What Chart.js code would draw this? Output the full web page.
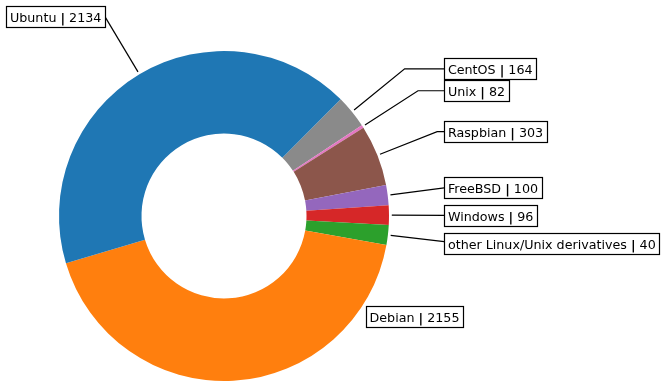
<!DOCTYPE html>
<html>
<head>
<meta charset="utf-8">
<script src="https://cdn.jsdelivr.net/npm/chart.js@4.4.1/dist/chart.umd.min.js"></script>
<style>
  html, body { margin: 0; padding: 0; background: #fff; }
  #wrap { width: 662px; height: 387px; }
</style>
</head>
<body>
<div id="wrap"><canvas id="pie" width="662" height="387"></canvas></div>
<script>
// wedge order as in the original (counter-clockwise, starting at 45deg)
const systems = ['Ubuntu', 'Debian', 'other Linux/Unix derivatives', 'Windows', 'FreeBSD', 'Raspbian', 'Unix', 'CentOS'];
// numbers printed in the label boxes
const counts = [2134, 2155, 40, 96, 100, 303, 82, 164];
// wedge sizes as drawn - green and pink don't match their labels in the picture
const wedges = [2134, 2155, 99, 96, 100, 303, 14, 164];
const colors = ['#1f77b4', '#ff7f0e', '#2ca02c', '#d62728', '#9467bd', '#8c564b', '#e377c2', '#8a8a8a'];

// where each label sits, in units of the outer radius from the centre
const labelPos = [
  { x: -0.743, y: 1.209, align: 'right', line: true },
  { x: 0.882, y: -0.608, align: 'left', line: false },
  { x: 1.357, y: -0.168, align: 'left', line: true },
  { x: 1.357, y: 0.004, align: 'left', line: true },
  { x: 1.357, y: 0.173, align: 'left', line: true },
  { x: 1.357, y: 0.511, align: 'left', line: true },
  { x: 1.357, y: 0.759, align: 'left', line: true },
  { x: 1.357, y: 0.892, align: 'left', line: true },
];

const FONT = '12.7px "DejaVu Sans"';
const BOLD = 'bold 12.7px "DejaVu Sans"';
const PAD = 3.7;
const BOX_H = 21;

const boxLabels = {
  id: 'boxLabels',
  afterDraw(chart) {
    const ctx = chart.ctx;
    const meta = chart.getDatasetMeta(0);
    const n = systems.length;
    ctx.save();
    systems.forEach((name, i) => {
      const arc = meta.data[n - 1 - i];
      const { x, y, startAngle, endAngle, outerRadius } =
        arc.getProps(['x', 'y', 'startAngle', 'endAngle', 'outerRadius'], true);
      const mid = (startAngle + endAngle) / 2;
      const dx = Math.cos(mid), dy = Math.sin(mid);
      const p = labelPos[i];
      const tx = x + p.x * outerRadius;
      const ty = y - p.y * outerRadius;

      ctx.font = FONT;
      const w1 = ctx.measureText(name + ' ').width;
      ctx.font = BOLD;
      const w2 = ctx.measureText('|').width;
      ctx.font = FONT;
      const w3 = ctx.measureText(' ' + counts[i]).width;
      const tw = w1 + w2 + w3;
      const left = p.align === 'right' ? tx - tw : tx;
      const bx = left - PAD, bw = tw + 2 * PAD, by = ty - BOX_H / 2;

      if (p.line) {
        const ax = x + dx * (outerRadius + 2.8);
        const ay = y + dy * (outerRadius + 2.8);
        const edge = p.align === 'right' ? bx + bw : bx;
        const t = Math.abs(dy) > 1e-3 ? (ty - ay) / dy : -1;
        const cx = ax + dx * t;
        ctx.beginPath();
        ctx.moveTo(ax, ay);
        const past = p.align === 'right' ? cx <= edge : cx >= edge;
        if (t <= 0) {
          ctx.lineTo(edge, ty);
        } else if (past) {
          ctx.lineTo(edge, ay + dy * (edge - ax) / dx);
        } else {
          ctx.lineTo(cx, ty);
          ctx.lineTo(edge, ty);
        }
        ctx.strokeStyle = '#000';
        ctx.lineWidth = 1.2;
        ctx.stroke();
      }

      ctx.fillStyle = '#fff';
      ctx.fillRect(bx, by, bw, BOX_H);
      ctx.strokeStyle = '#000';
      ctx.lineWidth = 1.2;
      ctx.strokeRect(Math.round(bx) + 0.5, Math.round(by) + 0.5, Math.round(bw), BOX_H);

      ctx.fillStyle = '#000';
      ctx.textBaseline = 'alphabetic';
      ctx.textAlign = 'left';
      const base = ty + 5.5;
      ctx.font = FONT;
      ctx.fillText(name + ' ', left, base);
      ctx.font = BOLD;
      ctx.fillText('|', left + w1, base);
      ctx.font = FONT;
      ctx.fillText(' ' + counts[i], left + w1 + w2, base);
    });
    ctx.restore();
  }
};

new Chart(document.getElementById('pie'), {
  type: 'doughnut',
  data: {
    labels: systems.slice().reverse(),
    datasets: [{
      data: wedges.slice().reverse(),
      backgroundColor: colors.slice().reverse(),
      borderWidth: 0,
      hoverOffset: 0,
      offset: 0,
    }],
  },
  options: {
    responsive: false,
    animation: false,
    devicePixelRatio: 1,
    events: [],
    rotation: 45,
    cutout: '50%',
    layout: { padding: { left: 59, right: 273, top: 51, bottom: 6 } },
    plugins: {
      legend: { display: false },
      tooltip: { enabled: false },
    },
  },
  plugins: [boxLabels],
});
</script>
</body>
</html>
